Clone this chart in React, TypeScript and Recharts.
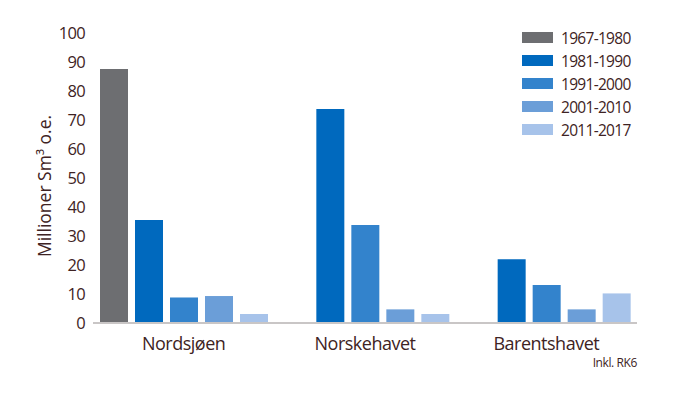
import React from 'react';
import { BarChart, Bar, XAxis, YAxis, Legend, Label } from 'recharts';

const categories = ['Nordsjøen', 'Norskehavet', 'Barentshavet'];
const seriesNames = ['1967-1980', '1981-1990', '1991-2000', '2001-2010', '2011-2017'];
const seriesColors = ['#6d6e71', '#0069be', '#3383cc', '#6b9ed8', '#a7c3ea'];
const v1967 = [87.6, null, null];
const v1981 = [35.5, 73.8, 22];
const v1991 = [8.8, 33.8, 13.1];
const v2001 = [9.3, 4.7, 4.7];
const v2011 = [3.1, 3.1, 10.2];
const yTicks = [0, 10, 20, 30, 40, 50, 60, 70, 80, 90, 100];

const seriesValues = [v1967, v1981, v1991, v2001, v2011];
const data = categories.map((c, i) => {
  const row: any = { name: c };
  seriesNames.forEach((s, k) => { row[s] = seriesValues[k][i]; });
  return row;
});

const TEXT = '#3e2323';
const FONT = '"Open Sans", sans-serif';

const LegendContent = () => (
  <div style={{ fontFamily: FONT }}>
    {seriesNames.map((s, k) => (
      <div key={s} style={{ display: 'flex', alignItems: 'center', height: 23 }}>
        <div style={{ width: 31, height: 11, background: seriesColors[k], marginRight: 8 }} />
        <span style={{ fontSize: 15.5, color: TEXT, letterSpacing: -0.7 }}>{s}</span>
      </div>
    ))}
  </div>
);

export default function App() {
  return (
    <div style={{ position: 'absolute', left: 0, top: 0, width: 700, height: 394, background: '#fff' }}>
      <BarChart
        width={700}
        height={394}
        data={data}
        margin={{ top: 33, right: 63, bottom: 0, left: 0 }}
        barSize={28}
        barGap={7}
        barCategoryGap={6}
      >
        <XAxis
          dataKey="name"
          height={71}
          tickLine={false}
          axisLine={{ stroke: '#c9c6c6', strokeWidth: 2 }}
          tickMargin={8}
          tick={{ fill: TEXT, fontSize: 18, fontFamily: FONT, letterSpacing: -0.5 }}
          interval={0}
        />
        <YAxis
          width={93}
          domain={[0, 100]}
          ticks={yTicks}
          tickLine={false}
          axisLine={false}
          tick={{ fill: TEXT, fontSize: 16.5, fontFamily: FONT, letterSpacing: -0.7 }}
        >
          <Label
            value="Millioner Sm³ o.e."
            angle={-90}
            position="center"
            dx={-2}
            dy={8}
            style={{ fill: TEXT, fontSize: 17.5, fontFamily: FONT, textAnchor: 'middle' }}
          />
        </YAxis>
        <Legend
          layout="vertical"
          verticalAlign="middle"
          align="center"
          content={<LegendContent />}
          wrapperStyle={{ position: 'absolute', left: 522, top: 26, width: 140 }}
        />
        {seriesNames.map((s, k) => (
          <Bar key={s} dataKey={s} fill={seriesColors[k]} isAnimationActive={false} />
        ))}
      </BarChart>
      <div style={{ position: 'absolute', left: 560, top: 354, width: 77, textAlign: 'right', fontFamily: FONT, fontSize: 12, color: TEXT, letterSpacing: -0.4 }}>
        Inkl. RK6
      </div>
    </div>
  );
}
